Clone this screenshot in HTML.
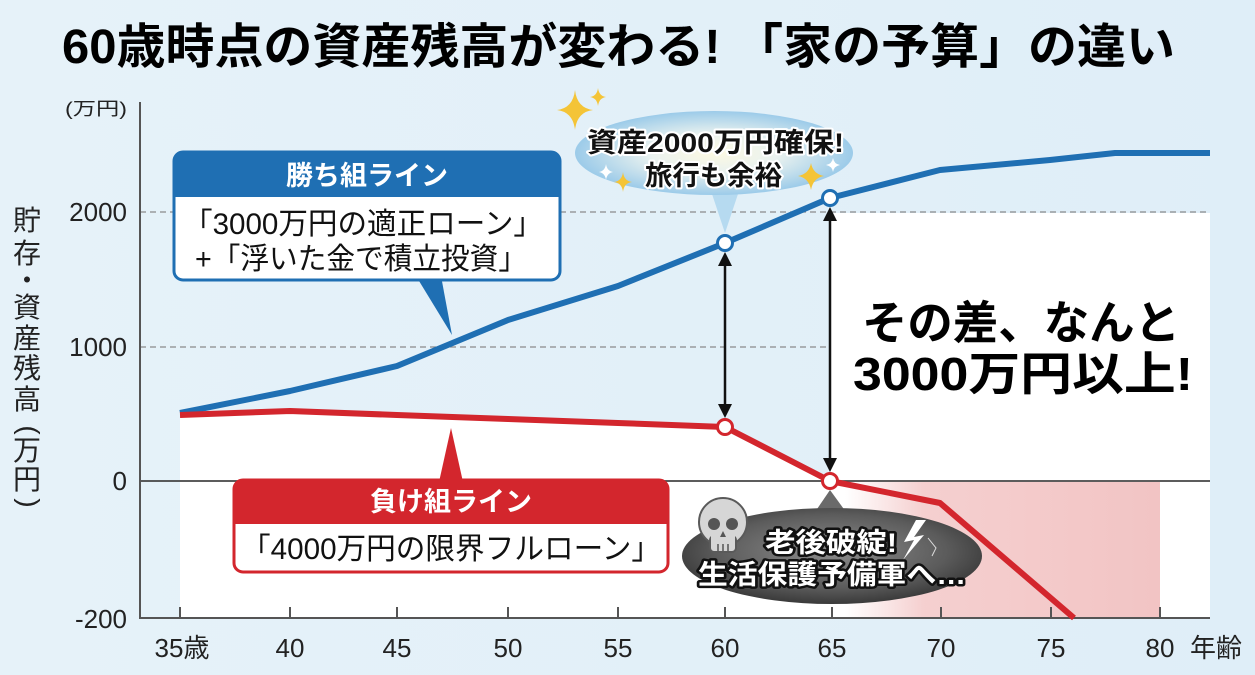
<!DOCTYPE html>
<html><head><meta charset="utf-8"><style>
html,body{margin:0;padding:0;background:#e3f0f8;}
svg{display:block;}
text{font-family:"Liberation Sans","Noto Sans CJK JP",sans-serif;}
</style></head><body>
<svg width="1255" height="675" viewBox="0 0 1255 675" xmlns="http://www.w3.org/2000/svg">
<defs>
<linearGradient id="bg" x1="0" y1="0" x2="1" y2="0">
<stop offset="0" stop-color="#e6f2f9"/><stop offset="1" stop-color="#dfeef8"/>
</linearGradient>
<linearGradient id="pink" x1="845" y1="0" x2="1160" y2="0" gradientUnits="userSpaceOnUse">
<stop offset="0" stop-color="#f3c7c7" stop-opacity="0"/>
<stop offset="0.25" stop-color="#f3c7c7" stop-opacity="0.85"/>
<stop offset="1" stop-color="#f2c4c4"/>
</linearGradient>
<radialGradient id="bub" cx="0.5" cy="0.5" r="0.5">
<stop offset="0" stop-color="#fdf9e2"/><stop offset="0.45" stop-color="#eaf2ef"/><stop offset="1" stop-color="#9ccbe9"/>
</radialGradient>
<radialGradient id="gray" cx="0.5" cy="0.45" r="0.55">
<stop offset="0" stop-color="#8d8d8d"/><stop offset="0.7" stop-color="#5b5b5b"/><stop offset="1" stop-color="#3a3a3a"/>
</radialGradient>
</defs>
<rect width="1255" height="675" fill="url(#bg)"/>

<!-- title -->
<text x="62" y="63" font-size="48" font-weight="bold" fill="#000" textLength="1113" lengthAdjust="spacingAndGlyphs">60歳時点の資産残高が変わる! 「家の予算」の違い</text>

<!-- white plot regions -->
<polygon points="180,415 290,411 397,415 508,419 618,423 725,427 830,481 830,213 1210,213 1210,618 180,618" fill="#ffffff"/>
<rect x="845" y="482" width="315" height="136" fill="url(#pink)"/>

<!-- grid -->
<line x1="140" y1="212" x2="1210" y2="212" stroke="#8a8a8a" stroke-width="1.3" stroke-dasharray="6,4"/>
<line x1="140" y1="347" x2="830" y2="347" stroke="#8a8a8a" stroke-width="1.3" stroke-dasharray="6,4"/>
<line x1="140" y1="481" x2="1210" y2="481" stroke="#444" stroke-width="1.8"/>

<!-- axes -->
<line x1="140" y1="102" x2="140" y2="619" stroke="#555" stroke-width="2"/>
<line x1="139" y1="618" x2="1210" y2="618" stroke="#555" stroke-width="2"/>
<g stroke="#555" stroke-width="2">
<line x1="180" y1="607" x2="180" y2="618"/><line x1="290" y1="607" x2="290" y2="618"/>
<line x1="397" y1="607" x2="397" y2="618"/><line x1="508" y1="607" x2="508" y2="618"/>
<line x1="618" y1="607" x2="618" y2="618"/><line x1="725" y1="607" x2="725" y2="618"/>
<line x1="832" y1="607" x2="832" y2="618"/><line x1="941" y1="607" x2="941" y2="618"/>
<line x1="1051" y1="607" x2="1051" y2="618"/><line x1="1160" y1="607" x2="1160" y2="618"/>
</g>

<!-- y labels -->
<g font-size="26" fill="#222" text-anchor="end">
<text x="127" y="221">2000</text>
<text x="127" y="356">1000</text>
<text x="127" y="490">0</text>
<text x="127" y="628">-200</text>
</g>
<text x="65" y="115" font-size="18" fill="#222" textLength="62" lengthAdjust="spacingAndGlyphs">(万円)</text>
<g font-size="28" fill="#222" text-anchor="middle">
<text x="27" y="230">貯</text>
<text x="27" y="263">存</text>
<text x="27" y="290">・</text>
<text x="27" y="317">資</text>
<text x="27" y="348">産</text>
<text x="27" y="378">残</text>
<text x="27" y="409">高</text>
<text x="27" y="437" transform="rotate(90 27 430)">(</text>
<text x="27" y="460">万</text>
<text x="27" y="489">円</text>
<text x="27" y="510" transform="rotate(90 27 503)">)</text>
</g>

<!-- x labels -->
<g font-size="26" fill="#222" text-anchor="middle">
<text x="182" y="657">35歳</text>
<text x="290" y="657">40</text>
<text x="397" y="657">45</text>
<text x="508" y="657">50</text>
<text x="618" y="657">55</text>
<text x="725" y="657">60</text>
<text x="832" y="657">65</text>
<text x="941" y="657">70</text>
<text x="1051" y="657">75</text>
<text x="1160" y="657">80</text>
<text x="1216" y="657">年齢</text>
</g>

<!-- lines -->
<polyline points="180,413 290,391 397,366 508,320 618,286 725,243 830,198 940,170 1050,160 1115,153 1210,153" fill="none" stroke="#1f6fb3" stroke-width="6" stroke-linejoin="round"/>
<polyline points="180,415 290,411 397,415 508,419 618,423 725,427 830,481 940,503 1074,618" fill="none" stroke="#d3262d" stroke-width="6" stroke-linejoin="round"/>

<!-- arrows -->
<g stroke="#111" stroke-width="2.5">
<line x1="725" y1="262" x2="725" y2="408"/>
<line x1="830" y1="217" x2="830" y2="462"/>
</g>
<g fill="#111">
<polygon points="725,252 718,266 732,266"/>
<polygon points="725,418 718,404 732,404"/>
<polygon points="830,207 823,221 837,221"/>
<polygon points="830,472 823,458 837,458"/>
</g>

<!-- markers -->
<circle cx="725" cy="243" r="7.5" fill="#fff" stroke="#1f6fb3" stroke-width="3"/>
<circle cx="830" cy="198" r="7.5" fill="#fff" stroke="#1f6fb3" stroke-width="3"/>
<circle cx="725" cy="427" r="7.5" fill="#fff" stroke="#d3262d" stroke-width="3"/>
<circle cx="830" cy="481" r="7.5" fill="#fff" stroke="#d3262d" stroke-width="3"/>

<!-- blue label box -->
<polygon points="416,276 441,276 452,335" fill="#1f6fb3"/>
<rect x="174" y="152" width="386" height="128" rx="9" fill="#fff" stroke="#1f6fb3" stroke-width="3"/>
<path d="M174,197 V161 Q174,152 183,152 H551 Q560,152 560,161 V197 Z" fill="#1f6fb3"/>
<text x="367" y="185" font-size="27" font-weight="bold" fill="#fff" text-anchor="middle">勝ち組ライン</text>
<text x="183" y="234" font-size="30" fill="#111" textLength="360" lengthAdjust="spacingAndGlyphs">「3000万円の適正ローン」</text>
<text x="195" y="269" font-size="30" fill="#111" textLength="332" lengthAdjust="spacingAndGlyphs">+「浮いた金で積立投資」</text>

<!-- red label box -->
<polygon points="439,482 463,482 451,428" fill="#d3262d"/>
<rect x="234" y="480" width="434" height="92" rx="9" fill="#fff" stroke="#d3262d" stroke-width="3"/>
<path d="M234,524 V489 Q234,480 243,480 H659 Q668,480 668,489 V524 Z" fill="#d3262d"/>
<text x="451" y="511" font-size="27" font-weight="bold" fill="#fff" text-anchor="middle">負け組ライン</text>
<text x="241" y="559" font-size="30" fill="#111" textLength="420" lengthAdjust="spacingAndGlyphs">「4000万円の限界フルローン」</text>

<!-- top bubble -->
<polygon points="710,188 740,188 725,233" fill="#b6daf0"/>
<ellipse cx="714" cy="153" rx="139" ry="42" fill="url(#bub)"/>
<text x="587" y="152" font-size="27" font-weight="bold" fill="#111" stroke="#fff" stroke-width="4" paint-order="stroke" stroke-linejoin="round" textLength="257" lengthAdjust="spacingAndGlyphs">資産2000万円確保!</text>
<text x="645" y="185" font-size="27" font-weight="bold" fill="#111" stroke="#fff" stroke-width="4" paint-order="stroke" stroke-linejoin="round" textLength="137" lengthAdjust="spacingAndGlyphs">旅行も余裕</text>
<g fill="#f4c437">
<path d="M575,90 Q577,108 593,110 Q577,112 575,130 Q573,112 557,110 Q573,108 575,90Z"/>
<path d="M598,88 Q599,96 606,97 Q599,98 598,106 Q597,98 590,97 Q597,96 598,88Z"/>
<path d="M623,172 Q624,181 632,182 Q624,183 623,192 Q622,183 614,182 Q622,181 623,172Z"/>
<path d="M811,163 Q813,174 824,176 Q813,178 811,190 Q809,178 798,176 Q809,174 811,163Z"/>
</g>
<g fill="#fff">
<path d="M606,164 Q607,171 613,172 Q607,173 606,180 Q605,173 599,172 Q605,171 606,164Z"/>
<path d="M833,158 Q834,164 840,165 Q834,166 833,172 Q832,166 826,165 Q832,164 833,158Z"/>
</g>

<!-- gray bubble -->
<polygon points="815,512 846,512 830,490" fill="#6a6a6a"/>
<ellipse cx="832" cy="556" rx="150" ry="48" fill="url(#gray)"/>
<path d="M916,520 L904,542 L914,540 L903,560 L924,535 L914,537 L926,520Z" fill="#fff"/>
<path d="M928,538 L936,548 L932,556" fill="none" stroke="#ddd" stroke-width="1"/>
<!-- skull -->
<circle cx="723" cy="522" r="24" fill="#d6d6d6" stroke="#5a5a5a" stroke-width="2"/>
<rect x="710" y="536" width="26" height="16" rx="4" fill="#d6d6d6" stroke="#5a5a5a" stroke-width="2"/>
<rect x="711" y="530" width="24" height="10" fill="#d6d6d6"/>
<circle cx="714" cy="524" r="6" fill="#555"/>
<circle cx="732" cy="524" r="6" fill="#555"/>
<path d="M723,531 L720,537 L726,537Z" fill="#555"/>
<g stroke="#555" stroke-width="1.5"><line x1="718" y1="544" x2="718" y2="551"/><line x1="723" y1="544" x2="723" y2="551"/><line x1="728" y1="544" x2="728" y2="551"/></g>
<text x="765" y="552" font-size="27" font-weight="bold" fill="#fff" stroke="#111" stroke-width="5" paint-order="stroke" stroke-linejoin="round" textLength="132" lengthAdjust="spacingAndGlyphs">老後破綻!</text>
<text x="698" y="584" font-size="27" font-weight="bold" fill="#fff" stroke="#111" stroke-width="5" paint-order="stroke" stroke-linejoin="round" textLength="268" lengthAdjust="spacingAndGlyphs">生活保護予備軍へ…</text>

<!-- big annotation -->
<text x="862" y="339" font-size="46" font-weight="bold" fill="#000" textLength="318" lengthAdjust="spacingAndGlyphs">その差、なんと</text>
<text x="853" y="390" font-size="46" font-weight="bold" fill="#000" textLength="340" lengthAdjust="spacingAndGlyphs">3000万円以上!</text>
</svg>
</body></html>
